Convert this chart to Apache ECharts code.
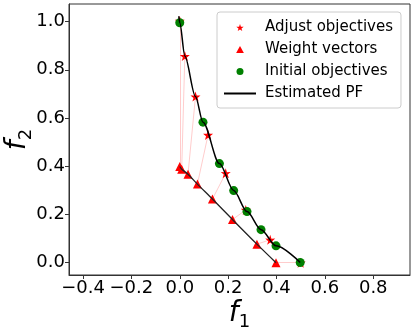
<!DOCTYPE html>
<html><head><meta charset="utf-8">
<script src="https://cdn.jsdelivr.net/npm/echarts@6/dist/echarts.min.js"></script>
<style>html,body{margin:0;padding:0;background:#fff}#c{width:415px;height:334px}</style>
</head><body><div id="c"></div>
<script>
// Weight vectors (red triangles)
const weightF1 = [0.0, 0.008, 0.034, 0.073, 0.135, 0.218, 0.319, 0.398];
const weightF2 = [0.399, 0.388, 0.367, 0.326, 0.264, 0.179, 0.077, 0.0];
// Adjust objectives (red stars)
const adjustF1 = [0.0, 0.021, 0.065, 0.117, 0.190, 0.273, 0.374, 0.5];
const adjustF2 = [1.003, 0.857, 0.689, 0.530, 0.371, 0.219, 0.095, 0.0];
// Initial objectives (green circles)
const initF1 = [0.0, 0.096, 0.164, 0.223, 0.278, 0.336, 0.398, 0.498];
const initF2 = [0.995, 0.583, 0.411, 0.299, 0.212, 0.137, 0.070, 0.001];
// Estimated PF curve points
const pfF1 = [-0.004, 0.0, 0.021, 0.065, 0.096, 0.164, 0.223, 0.278, 0.336, 0.398, 0.498];
const pfF2 = [1.022, 0.995, 0.857, 0.689, 0.583, 0.411, 0.299, 0.212, 0.137, 0.070, 0.001];
// Tick labels
const xTicks = [-0.4, -0.2, 0.0, 0.2, 0.4, 0.6, 0.8];
const yTicks = [0.0, 0.2, 0.4, 0.6, 0.8, 1.0];

const zip = (a, b) => a.map((v, i) => [v, b[i]]);
const STAR = 'path://M50,0 L61.8,35.4 L97.6,34.5 L69,57.3 L79.4,90.5 L50,70 L20.6,90.5 L31,57.3 L2.4,34.5 L38.2,35.4 Z';
const TRI = 'path://M50,0 L100,90 L0,90 Z';

const chart = echarts.init(document.getElementById('c'), null, {renderer: 'canvas'});
const nameRich = {
  i: {fontFamily: 'DejaVu Sans', fontStyle: 'italic', fontSize: 28, color: '#000', lineHeight: 34, verticalAlign: 'middle'},
  s: {fontFamily: 'DejaVu Sans', fontSize: 18, color: '#000', lineHeight: 34, verticalAlign: 'bottom'}
};
const axisCommon = {
  type: 'value',
  axisLine: {show: true, onZero: false, lineStyle: {color: '#333', width: 1}},
  axisTick: {show: true, inside: false, length: 4, lineStyle: {color: '#333'}},
  splitLine: {show: false},
  nameMoveOverlap: false,
  axisLabel: {color: '#000', fontFamily: 'DejaVu Sans', fontSize: 18, margin: 4,
    formatter: v => v.toFixed(1).replace('-', '\u2212')}
};
chart.setOption({
  animation: false,
  grid: {left: 69, top: 4, right: 5, bottom: 59, containLabel: false, outerBoundsMode: 'none',
    show: true, borderColor: '#333', borderWidth: 1, backgroundColor: '#fff'},
  xAxis: Object.assign({}, axisCommon, {
    min: -0.458, max: 0.952,
    axisTick: Object.assign({}, axisCommon.axisTick, {customValues: xTicks}),
    axisLabel: Object.assign({}, axisCommon.axisLabel, {customValues: xTicks}),
    name: '{i|f}{s|1}', nameLocation: 'middle', nameGap: 22,
    nameTextStyle: {rich: nameRich}
  }),
  yAxis: Object.assign({}, axisCommon, {
    min: -0.051, max: 1.073,
    axisTick: Object.assign({}, axisCommon.axisTick, {customValues: yTicks}),
    axisLabel: Object.assign({}, axisCommon.axisLabel, {customValues: yTicks}),
    name: '{i|f}{s|2}', nameLocation: 'middle', nameGap: 34, nameRotate: 90,
    nameTextStyle: {rich: nameRich}
  }),
  legend: {
    orient: 'vertical', left: 217, top: 12, symbolKeepAspect: true,
    backgroundColor: '#fff', borderColor: '#ccc', borderWidth: 1, borderRadius: 3,
    padding: [8, 8, 7, 6], itemGap: 7, itemWidth: 32, itemHeight: 7,
    textStyle: {fontFamily: 'DejaVu Sans', fontSize: 15, color: '#000', padding: [0,0,0,4]},
    data: [
      {name: 'Adjust objectives', icon: STAR},
      {name: 'Weight vectors', icon: TRI},
      {name: 'Initial objectives', icon: 'circle'},
      {name: 'Estimated PF', itemStyle: {opacity: 0}}]
  },
  series: [
    {
      type: 'lines', coordinateSystem: 'cartesian2d', silent: true,
      lineStyle: {color: 'rgba(255,0,0,0.2)', width: 1, opacity: 1},
      data: weightF1.map((x, i) => ({coords: [[x, weightF2[i]], [adjustF1[i], adjustF2[i]]]})),
      z: 1
    },
    {
      name: 'Adjust objectives', type: 'scatter', symbol: STAR, symbolSize: 10,
      itemStyle: {color: '#ff0000', opacity: 1}, data: zip(adjustF1, adjustF2), z: 2
    },
    {
      name: 'Weight vectors', type: 'scatter', symbol: 'triangle', symbolSize: 9,
      itemStyle: {color: '#ff0000', opacity: 1}, data: zip(weightF1, weightF2), z: 3
    },
    {
      name: 'Initial objectives', type: 'scatter', symbol: 'circle', symbolSize: 9,
      itemStyle: {color: '#008000', opacity: 1}, data: zip(initF1, initF2), z: 4
    },
    {
      name: 'Estimated PF', type: 'line', symbol: 'none', smooth: 0.3, smoothMonotone: 'x',
      lineStyle: {color: '#000', width: 1.5}, itemStyle: {color: '#000'},
      data: zip(pfF1, pfF2), z: 5
    },
    {
      name: 'weightLine', type: 'line', symbol: 'none', smooth: 0.3,
      lineStyle: {color: '#222', width: 1.3}, data: zip(weightF1, weightF2), z: 5
    }
  ]
});
</script></body></html>
